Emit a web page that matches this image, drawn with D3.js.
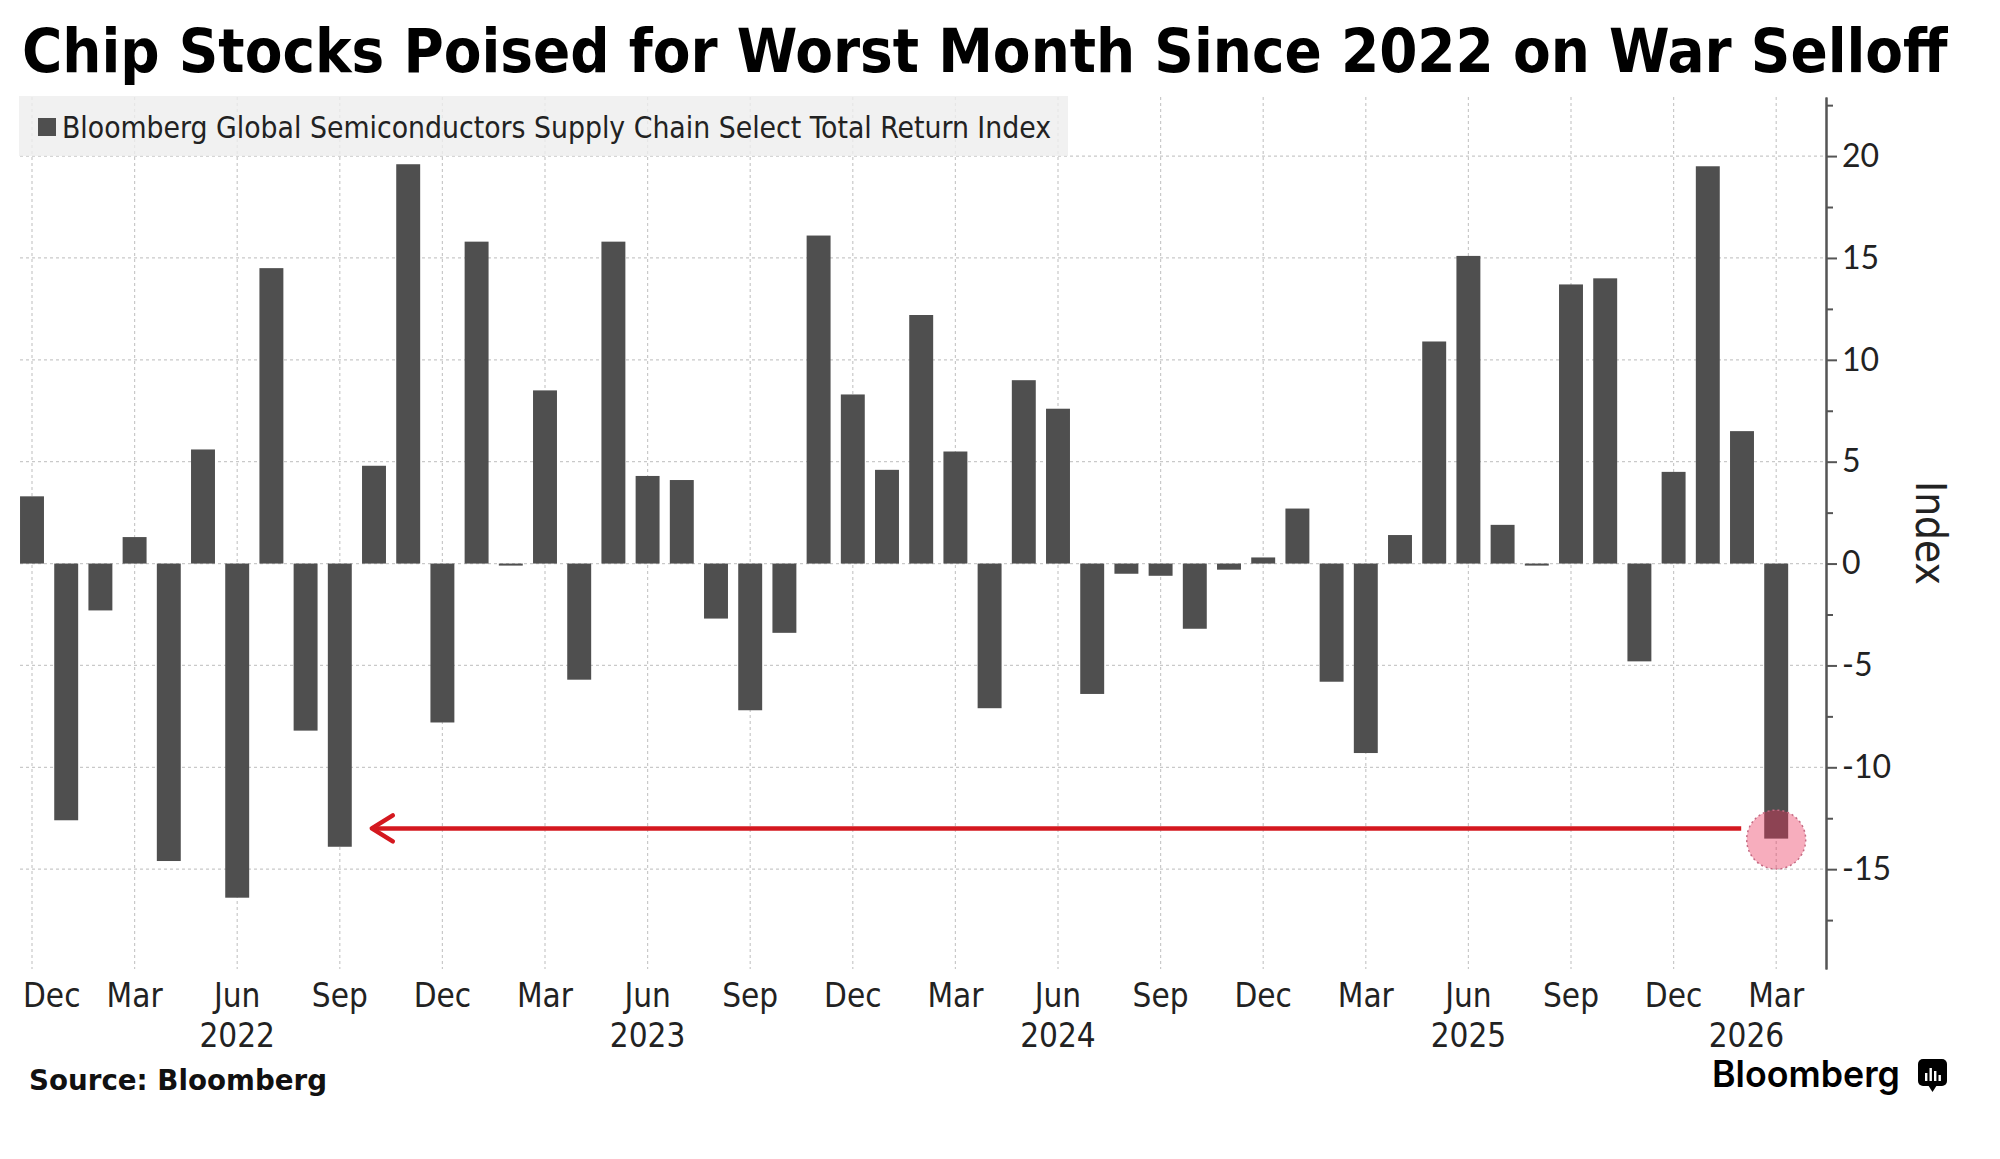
<!DOCTYPE html>
<html>
<head>
<meta charset="utf-8">
<script src="https://cdn.jsdelivr.net/npm/d3@7"></script>
<style>
  html, body { margin: 0; padding: 0; background: #ffffff; }
  svg { display: block; }
</style>
</head>
<body>
<svg id="chart" width="2000" height="1159"></svg>
<script>
// ---------------- DATA ----------------
const months = [
  "2021-12",
  "2022-01","2022-02","2022-03","2022-04","2022-05","2022-06","2022-07","2022-08","2022-09","2022-10","2022-11","2022-12",
  "2023-01","2023-02","2023-03","2023-04","2023-05","2023-06","2023-07","2023-08","2023-09","2023-10","2023-11","2023-12",
  "2024-01","2024-02","2024-03","2024-04","2024-05","2024-06","2024-07","2024-08","2024-09","2024-10","2024-11","2024-12",
  "2025-01","2025-02","2025-03","2025-04","2025-05","2025-06","2025-07","2025-08","2025-09","2025-10","2025-11","2025-12",
  "2026-01","2026-02","2026-03"
];
const returns = [
  3.3,
  -12.6, -2.3, 1.3, -14.6, 5.6, -16.4, 14.5, -8.2, -13.9, 4.8, 19.6, -7.8,
  15.8, -0.1, 8.5, -5.7, 15.8, 4.3, 4.1, -2.7, -7.2, -3.4, 16.1, 8.3,
  4.6, 12.2, 5.5, -7.1, 9.0, 7.6, -6.4, -0.5, -0.6, -3.2, -0.3, 0.3,
  2.7, -5.8, -9.3, 1.4, 10.9, 15.1, 1.9, -0.1, 13.7, 14.0, -4.8, 4.5,
  19.5, 6.5, -13.5
];
const xTickMonths = ["2021-12","2022-03","2022-06","2022-09","2022-12","2023-03","2023-06","2023-09","2023-12",
                     "2024-03","2024-06","2024-09","2024-12","2025-03","2025-06","2025-09","2025-12","2026-03"];
const xTickLabels = ["Dec","Mar","Jun","Sep","Dec","Mar","Jun","Sep","Dec",
                     "Mar","Jun","Sep","Dec","Mar","Jun","Sep","Dec","Mar"];
const yearMonths = ["2022-06","2023-06","2024-06","2025-06","2026-03"];
const yearLabels = ["2022","2023","2024","2025","2026"];
const yMajorTicks = [-15, -10, -5, 0, 5, 10, 15, 20];
const yMinorTicks = [-17.5, -12.5, -7.5, -2.5, 2.5, 7.5, 12.5, 17.5, 22.5];
const yDomain = [-19.9, 22.9];
const arrowFrom = "2026-03", arrowTo = "2022-09", arrowValue = -13.0;
const highlightMonth = "2026-03";

const titleText = "Chip Stocks Poised for Worst Month Since 2022 on War Selloff";
const legendText = "Bloomberg Global Semiconductors Supply Chain Select Total Return Index";
const axisTitle = "Index";
const sourceText = "Source: Bloomberg";
const logoText = "Bloomberg";

// ---------------- LAYOUT ----------------
const svg = d3.select("#chart");
const plot = { left: 20, right: 1826, top: 97, bottom: 969 };
const barColor = "#4f4f4f";
const gridColor = "#c9c9c9";
const condensed = "'DejaVu Sans Condensed', 'DejaVu Sans', sans-serif";

const x = d3.scaleBand()
  .domain(months)
  .range([14.9, 14.9 + 52 * 34.2])
  .paddingInner(0.3)
  .paddingOuter(0.15);
const xc = m => x(m) + x.bandwidth() / 2;

const y = d3.scaleLinear().domain(yDomain).range([plot.bottom, plot.top]);

// ---------------- TITLE (fit width, keep cap height) ----------------
const titleBase = 60, titleWidth = 1926;
const title = svg.append("text")
  .attr("font-family", "'DejaVu Sans Condensed', 'DejaVu Sans', sans-serif")
  .attr("font-weight", "bold")
  .attr("font-size", titleBase)
  .attr("fill", "#000")
  .text(titleText);
const natural = title.node().getComputedTextLength();
const fitSize = titleBase * titleWidth / natural;
title.attr("font-size", fitSize)
  .attr("transform", `translate(22,72) scale(1,${titleBase / fitSize})`);

// ---------------- GRID ----------------
const grid = svg.append("g");
grid.selectAll("line.h").data(yMajorTicks).join("line")
  .attr("class", "h")
  .attr("x1", plot.left).attr("x2", plot.right)
  .attr("y1", d => y(d)).attr("y2", d => y(d))
  .attr("stroke", gridColor).attr("stroke-width", 1.2)
  .attr("stroke-dasharray", "3,3");
grid.selectAll("line.v").data(xTickMonths).join("line")
  .attr("class", "v")
  .attr("x1", d => xc(d)).attr("x2", d => xc(d))
  .attr("y1", plot.top).attr("y2", plot.bottom)
  .attr("stroke", gridColor).attr("stroke-width", 1.2)
  .attr("stroke-dasharray", "3,3");

// ---------------- LEGEND ----------------
svg.append("rect")
  .attr("x", 19).attr("y", 96).attr("width", 1049).attr("height", 60)
  .attr("fill", "#ededed").attr("fill-opacity", 0.8);
svg.append("rect")
  .attr("x", 38).attr("y", 118).attr("width", 18).attr("height", 18)
  .attr("fill", barColor);
svg.append("text")
  .attr("x", 62).attr("y", 138)
  .attr("font-family", condensed)
  .attr("font-size", 29.5)
  .attr("textLength", 989)
  .attr("lengthAdjust", "spacingAndGlyphs")
  .attr("fill", "#222")
  .text(legendText);

// ---------------- BARS ----------------
const data = months.map((m, i) => ({ m, v: returns[i] }));
svg.append("g").selectAll("rect").data(data).join("rect")
  .attr("x", d => x(d.m))
  .attr("width", x.bandwidth())
  .attr("y", d => y(Math.max(0, d.v)))
  .attr("height", d => Math.max(1.5, Math.abs(y(d.v) - y(0))))
  .attr("fill", barColor);

// ---------------- Y AXIS (right) ----------------
const yAxisMinor = d3.axisRight(y).tickValues(yMinorTicks).tickSize(7).tickSizeOuter(0).tickFormat("");
const yAxis = d3.axisRight(y).tickValues(yMajorTicks).tickSize(11).tickSizeOuter(0).tickPadding(5)
  .tickFormat(d => d3.format("d")(d).replace("\u2212", "-"));
const gMinor = svg.append("g").attr("transform", `translate(${plot.right},0)`).call(yAxisMinor);
const gAxis = svg.append("g").attr("transform", `translate(${plot.right},0)`).call(yAxis);
[gMinor, gAxis].forEach(g => {
  g.select(".domain").attr("stroke", "#555").attr("stroke-width", 2);
  g.selectAll(".tick line").attr("stroke", "#555").attr("stroke-width", 2);
});
gAxis.selectAll(".tick text")
  .attr("font-family", "Lato, 'Noto Sans', sans-serif")
  .attr("font-size", 32)
  .attr("fill", "#222");

svg.append("text")
  .attr("transform", `translate(1916, ${(y(yDomain[0]) + y(yDomain[1])) / 2}) rotate(90)`)
  .attr("text-anchor", "middle")
  .attr("font-family", condensed)
  .attr("font-size", 42)
  .attr("fill", "#222")
  .text(axisTitle);

// ---------------- X LABELS ----------------
svg.append("g").selectAll("text").data(xTickMonths).join("text")
  .attr("x", (d, i) => i === 0 ? xc(d) - 9 : xc(d))
  .attr("y", 1007)
  .attr("text-anchor", (d, i) => i === 0 ? "start" : "middle")
  .attr("font-family", condensed)
  .attr("font-size", 33)
  .attr("fill", "#222")
  .text((d, i) => xTickLabels[i]);

svg.append("g").selectAll("text").data(yearMonths).join("text")
  .attr("x", (d, i) => i === yearMonths.length - 1 ? xc(d) + 8 : xc(d))
  .attr("y", 1047)
  .attr("text-anchor", (d, i) => i === yearMonths.length - 1 ? "end" : "middle")
  .attr("font-family", condensed)
  .attr("font-size", 33)
  .attr("fill", "#222")
  .text((d, i) => yearLabels[i]);

// ---------------- ANNOTATION ----------------
const ay = y(arrowValue);
const ax1 = xc(arrowFrom) - 35;
const ax2 = xc(arrowTo) + 32;
const red = "#d4181f";
svg.append("line")
  .attr("x1", ax1).attr("x2", ax2 + 2).attr("y1", ay).attr("y2", ay)
  .attr("stroke", red).attr("stroke-width", 4.5);
svg.append("path")
  .attr("d", `M${ax2 + 21},${ay - 13} L${ax2},${ay} L${ax2 + 21},${ay + 13}`)
  .attr("fill", "none").attr("stroke", red).attr("stroke-width", 4.5)
  .attr("stroke-linecap", "round").attr("stroke-linejoin", "round");

const hv = returns[months.indexOf(highlightMonth)];
svg.append("circle")
  .attr("cx", xc(highlightMonth)).attr("cy", y(hv) + 1)
  .attr("r", 29.5)
  .attr("fill", "rgb(236,50,90)").attr("fill-opacity", 0.4)
  .attr("stroke", "#c46a82").attr("stroke-width", 1.5)
  .attr("stroke-dasharray", "2,3");

// ---------------- FOOTER ----------------
svg.append("text")
  .attr("x", 29).attr("y", 1090)
  .attr("font-family", "'DejaVu Sans', sans-serif")
  .attr("font-weight", "bold")
  .attr("font-size", 29)
  .attr("textLength", 298)
  .attr("lengthAdjust", "spacingAndGlyphs")
  .attr("fill", "#111")
  .text(sourceText);

svg.append("text")
  .attr("x", 1712).attr("y", 1087)
  .attr("font-family", "Inter, Roboto, sans-serif")
  .attr("font-weight", 600)
  .attr("font-size", 37)
  .attr("textLength", 188)
  .attr("lengthAdjust", "spacingAndGlyphs")
  .attr("fill", "#000")
  .text(logoText);

// logo icon
const icon = svg.append("g").attr("transform", "translate(1918,1059)");
icon.append("rect").attr("x", 0).attr("y", 0).attr("width", 29).attr("height", 27).attr("rx", 5).attr("fill", "#000");
icon.append("path").attr("d", "M10,26 L14.5,33 L19,26 Z").attr("fill", "#000");
const iconBars = [[7, 14], [11.5, 9], [16, 12], [20.5, 16]];
icon.selectAll("rect.b").data(iconBars).join("rect")
  .attr("class", "b")
  .attr("x", d => d[0]).attr("width", 2.4)
  .attr("y", d => d[1]).attr("height", d => 22 - d[1])
  .attr("fill", "#fff");
</script>
</body>
</html>
